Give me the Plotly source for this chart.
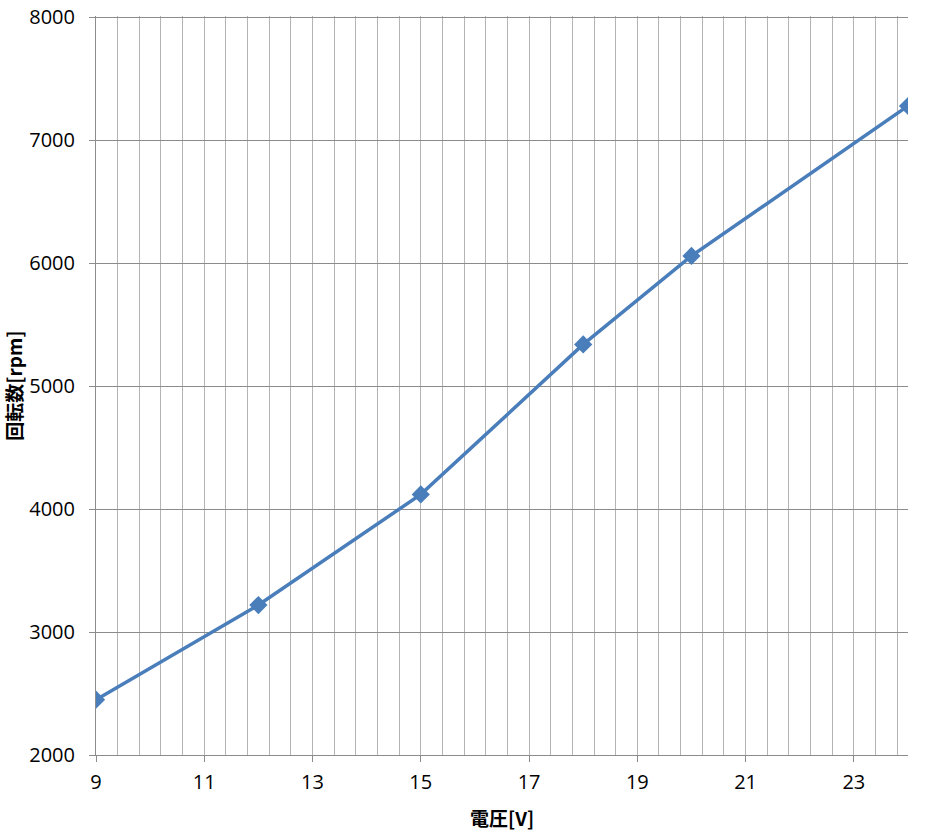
import plotly.graph_objects as go

voltage = [9, 12, 15, 18, 20, 24]
rpm = [2450, 3220, 4120, 5340, 6060, 7280]
x_title = "<b>電圧[V]</b>"
y_title = "<b>回転数[rpm]</b>"

fig = go.Figure()
fig.add_trace(go.Scatter(
    x=voltage, y=rpm, mode="lines+markers",
    line=dict(color="#4a7ebb", width=3.5),
    marker=dict(symbol="diamond", size=14, color="#4a7ebb"),
    showlegend=False,
))

font_family = "Open Sans, Noto Sans CJK JP, sans-serif"
tick_font = dict(family="Open Sans", size=20, color="#000")
title_font = dict(size=19, family="Noto Sans CJK JP", color="#000")
fig.update_layout(
    width=938, height=836,
    margin=dict(l=96, r=30, t=16, b=81),
    plot_bgcolor="white", paper_bgcolor="white",
    font=dict(family=font_family, size=18, color="#000"),
    xaxis=dict(
        range=[9, 24], tick0=9, dtick=2, showgrid=True, automargin=False,
        gridcolor="#b4b4b4", gridwidth=1,
        minor=dict(dtick=0.4, tick0=9, showgrid=True, gridcolor="#b4b4b4", gridwidth=1),
        showline=True, linecolor="#8c8c8c", linewidth=1,
        ticks="outside", ticklen=6, tickcolor="#8c8c8c",
        tickfont=tick_font, ticklabelstandoff=3, ticklabeloverflow="allow",
        zeroline=False,
    ),
    yaxis=dict(
        range=[2000, 8012], tick0=2000, dtick=1000, showgrid=True, automargin=False,
        gridcolor="#8c8c8c", gridwidth=1,
        showline=True, linecolor="#8c8c8c", linewidth=1,
        ticks="outside", ticklen=6, tickcolor="#8c8c8c",
        tickfont=tick_font, ticklabelstandoff=10, ticklabeloverflow="allow",
        zeroline=False,
    ),
    annotations=[
        dict(text=x_title, xref="paper", yref="paper", x=0.5, y=-0.084,
             xanchor="center", yanchor="middle", showarrow=False, font=title_font),
        dict(text=y_title, xref="paper", yref="paper", x=-0.102, y=0.5,
             xanchor="center", yanchor="middle", showarrow=False, font=title_font,
             textangle=-90),
    ],
)
fig.write_html("out.html", config={"displayModeBar": False},
               post_script="document.body.style.margin='0';")
